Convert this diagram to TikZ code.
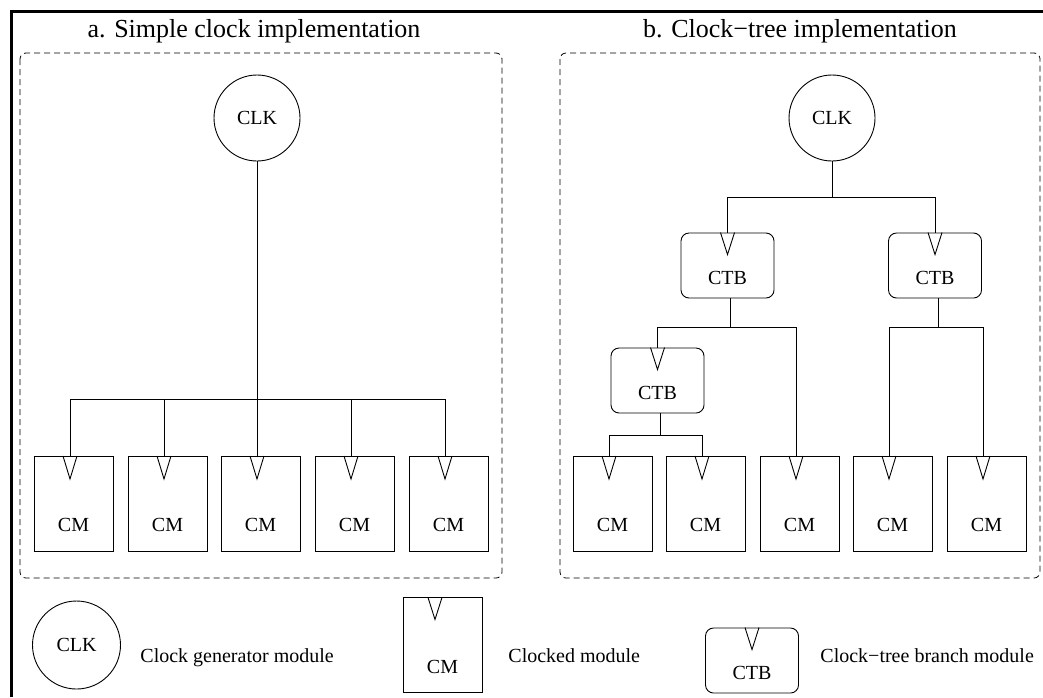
\documentclass[tikz,border=0pt]{standalone}
\usepackage{fontspec}
\setmainfont{Liberation Serif}
\begin{document}
\begin{tikzpicture}[x=1pt,y=-1pt, line width=0.9pt,
  lbl/.style={font=\fontsize{20}{24}\selectfont, inner sep=0pt},
  clkbox/.style={draw, circle, minimum size=86pt, inner sep=0pt, font=\fontsize{20}{24}\selectfont},
  cmbox/.style={draw, rectangle, minimum width=79pt, minimum height=95pt, inner sep=0pt},
  ctbbox/.style={draw, rectangle, rounded corners=8pt, minimum width=93pt, minimum height=65pt, inner sep=0pt},
  grp/.style={draw, dash pattern=on 6pt off 4pt, rounded corners=6pt, line width=0.8pt},
  titletext/.style={font=\fontsize{26}{30}\selectfont, anchor=base, inner sep=0pt},
  legtext/.style={font=\fontsize{20}{24}\selectfont, anchor=base west, inner sep=0pt},
  frame/.style={line width=3pt}]
\useasboundingbox (0,0) rectangle (1043,697);

% outer frame (top and left edges)
\draw[frame] (1043,11.5) -- (11.5,11.5) -- (11.5,697);

% titles
\node[titletext] (titleA) at (254,37) {a. Simple clock implementation};
\node[titletext] (titleB) at (800,37) {b. Clock−tree implementation};

% dashed group boxes
\draw[grp] (20,53) rectangle (502,578);
\draw[grp] (560,53) rectangle (1040,578);

% ---------- panel a ----------
\node[clkbox] (clkA) at (257,118) {CLK};
\foreach \i/\l in {1/34,2/128,3/221,4/315,5/409}{
  \node[cmbox] (a\i) at ({\l+39.5},503.5) {};
  \node[lbl] (at\i) at ({\l+39.5},525) {CM};
  \coordinate (ain\i) at ({\l+36},456);
  \draw ([xshift=-7pt]ain\i) -- ([yshift=-23pt]ain\i) -- ([xshift=7pt]ain\i);
}
\coordinate (busA) at (257,399);
\draw (clkA.south) -- (ain3);
\draw (ain1) |- (ain5 |- busA) -- (ain5);
\draw (ain2) -- (ain2 |- busA);
\draw (ain4) -- (ain4 |- busA);

% ---------- panel b ----------
\node[clkbox] (clkB) at (832,118) {CLK};
\foreach \n/\x/\y in {1/727.5/265.5, 2/935/265.5, 3/657.5/380.5}{
  \node[ctbbox] (t\n) at (\x,\y) {};
  \node[lbl] (tt\n) at (\x,{\y+12.5}) {CTB};
  \coordinate (tin\n) at (t\n.north);
  \coordinate (tout\n) at ([xshift=3pt]t\n.south);
  \draw ([xshift=-7pt]tin\n) -- ([yshift=-22pt]tin\n) -- ([xshift=7pt]tin\n);
}
\foreach \i/\l in {1/573,2/666,3/760,4/853,5/947}{
  \node[cmbox] (b\i) at ({\l+39.5},503.5) {};
  \node[lbl] (bt\i) at ({\l+39.5},525) {CM};
  \coordinate (bin\i) at ({\l+36},456);
  \draw ([xshift=-7pt]bin\i) -- ([yshift=-23pt]bin\i) -- ([xshift=7pt]bin\i);
}
\coordinate (busB) at (832,197);
\coordinate (busC) at (731,327);
\coordinate (busD) at (938,327);
\coordinate (busE) at (660,435);
\draw (clkB.south) -- (busB);
\draw (tin1) |- (tin2 |- busB) -- (tin2);
\draw (tout1) -- (tout1 |- busC);
\draw (tin3) |- (bin3 |- busC) -- (bin3);
\draw (tout2) -- (tout2 |- busD);
\draw (bin4) |- (bin5 |- busD) -- (bin5);
\draw (tout3) -- (tout3 |- busE);
\draw (bin1) |- (bin2 |- busE) -- (bin2);

% ---------- legend ----------
\node[clkbox, minimum size=88pt] (lclk) at (76.5,645) {CLK};
\node[legtext] (lclkt) at (140,662) {Clock generator module};
\node[cmbox] (lcm) at (442.5,645) {};
\node[lbl] (lcmt) at (442.5,667) {CM};
\coordinate (lcmin) at (435,597.5);
\draw ([xshift=-7pt]lcmin) -- ([yshift=-22pt]lcmin) -- ([xshift=7pt]lcmin);
\node[legtext] (lcmtxt) at (508,662) {Clocked module};
\node[ctbbox] (lctb) at (752,660.5) {};
\node[lbl] (lctbt) at (752,673) {CTB};
\coordinate (lctbin) at (lctb.north);
\draw ([xshift=-7pt]lctbin) -- ([yshift=-22pt]lctbin) -- ([xshift=7pt]lctbin);
\node[legtext] (lctbtxt) at (820,662) {Clock−tree branch module};
\end{tikzpicture}
\end{document}
